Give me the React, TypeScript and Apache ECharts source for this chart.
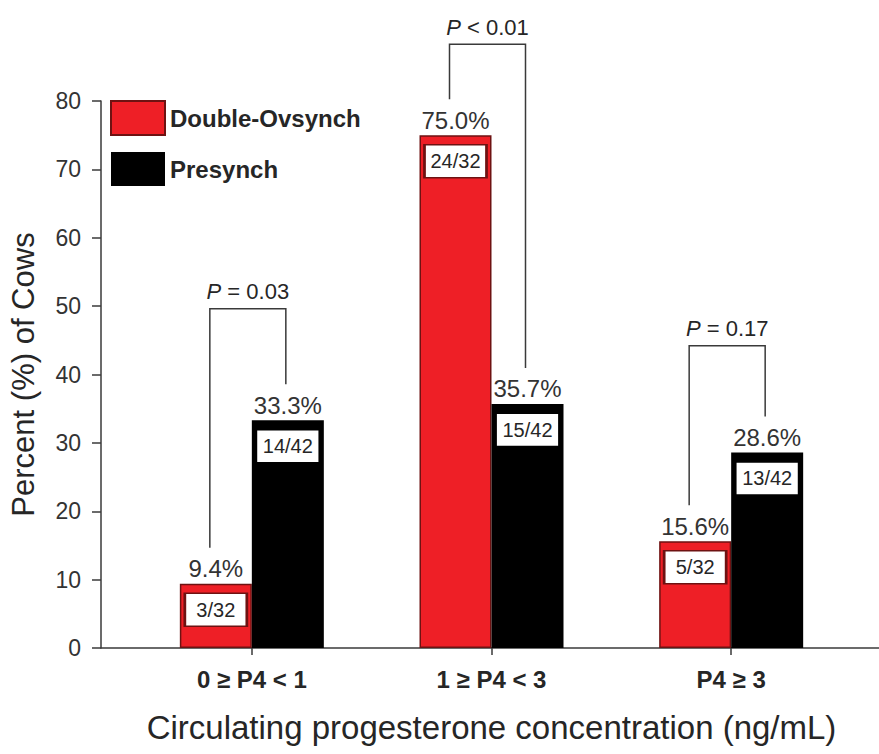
import React, { useEffect, useRef } from "react";
import * as echarts from "echarts";

const categories = ["0 ≥ P4 < 1", "1 ≥ P4 < 3", "P4 ≥ 3"];
const seriesNames = ["Double-Ovsynch", "Presynch"];
const doubleOvsynch = [9.4, 75.0, 15.6];
const presynch = [33.3, 35.7, 28.6];
const doubleFractions = ["3/32", "24/32", "5/32"];
const presynchFractions = ["14/42", "15/42", "13/42"];
const pLabels = ["{i|P} = 0.03", "{i|P} < 0.01", "{i|P} = 0.17"];
const bracketTops = [49.6, 88.3, 44.2];
const yTicks = [0, 10, 20, 30, 40, 50, 60, 70, 80];

const FONT = "'Liberation Sans', Arial, Helvetica, sans-serif";
const RED = "#ee1f26";
const RED_BORDER = "#6e1212";
const TEXT = "#262626";

export default function App() {
  const ref = useRef<HTMLDivElement>(null);
  useEffect(() => {
    if (!ref.current) return;
    const chart = echarts.init(ref.current, undefined, { renderer: "svg" });
    const gridTop = 101;
    const gridBottom = 106;
    const barW = 72;

    const fractionMarks = (vals: number[], fr: string[]) =>
      vals.map((v, i) => ({ name: fr[i], coord: [categories[i], v] }));

    const pctLabel = {
      show: true,
      position: "top",
      distance: 3,
      fontSize: 24,
      color: "#333",
      fontFamily: FONT,
      formatter: (p: any) => p.value.toFixed(1) + "%",
    };

    const option: any = {
      animation: false,
      backgroundColor: "#ffffff",
      textStyle: { fontFamily: FONT },
      legend: {
        orient: "vertical",
        left: 105,
        top: 95,
        itemWidth: 54,
        itemHeight: 34,
        itemGap: 16,
        icon: "rect",
        data: seriesNames,
        textStyle: { fontSize: 24, fontWeight: "bold", color: TEXT, fontFamily: FONT },
      },
      grid: [
        { left: 95, right: 0, top: gridTop, bottom: gridBottom },
        { left: 132, right: 28, top: gridTop, bottom: gridBottom },
      ],
      xAxis: [
        {
          type: "value",
          gridIndex: 0,
          min: 0,
          max: 1,
          axisLine: { show: true, lineStyle: { color: "#3a3a3a", width: 1.5 } },
          axisTick: { show: false },
          axisLabel: { show: false },
          splitLine: { show: false },
        },
        {
          type: "category",
          gridIndex: 1,
          data: categories,
          axisLine: { show: false },
          axisTick: { show: true, alignWithLabel: true, length: 7, lineStyle: { color: "#3a3a3a", width: 1.5 } },
          axisLabel: { fontSize: 24, fontWeight: "bold", color: TEXT, margin: 19, fontFamily: FONT },
          name: "Circulating progesterone concentration (ng/mL)",
          nameLocation: "middle",
          nameGap: 63,
          nameTextStyle: { fontSize: 33, color: TEXT, fontFamily: FONT },
        },
      ],
      yAxis: [
        {
          type: "value",
          gridIndex: 0,
          min: yTicks[0],
          max: yTicks[yTicks.length - 1],
          interval: 10,
          axisLine: { show: true, lineStyle: { color: "#3a3a3a", width: 1.5 } },
          axisTick: { show: true, inside: false, length: 9, lineStyle: { color: "#3a3a3a", width: 1.5 } },
          axisLabel: { fontSize: 23, color: "#333", margin: 20, fontFamily: FONT },
          splitLine: { show: false },
          name: "Percent (%) of Cows",
          nameLocation: "middle",
          nameGap: 62,
          nameTextStyle: { fontSize: 31, color: TEXT, fontFamily: FONT },
        },
        {
          type: "value",
          gridIndex: 1,
          min: yTicks[0],
          max: yTicks[yTicks.length - 1],
          interval: 10,
          show: false,
        },
      ],
      series: [
        {
          name: seriesNames[0],
          type: "bar",
          xAxisIndex: 1,
          yAxisIndex: 1,
          data: doubleOvsynch,
          barWidth: barW,
          barGap: "0%",
          itemStyle: { color: RED, borderColor: RED_BORDER, borderWidth: 1.5 },
          label: pctLabel,
          markPoint: {
            symbol: "rect",
            symbolSize: [62, 33],
            symbolOffset: [0, 26],
            itemStyle: { color: "#fff", borderColor: RED_BORDER, borderWidth: 2 },
            label: { show: true, position: "inside", fontSize: 20, color: TEXT, fontFamily: FONT, formatter: (p: any) => p.name },
            data: fractionMarks(doubleOvsynch, doubleFractions),
          },
        },
        {
          name: seriesNames[1],
          type: "bar",
          xAxisIndex: 1,
          yAxisIndex: 1,
          data: presynch,
          barWidth: barW,
          barGap: "0%",
          itemStyle: { color: "#000" },
          label: pctLabel,
          markPoint: {
            symbol: "rect",
            symbolSize: [64, 33],
            symbolOffset: [0, 26],
            itemStyle: { color: "#fff", borderColor: "#000", borderWidth: 2 },
            label: { show: true, position: "inside", fontSize: 20, color: TEXT, fontFamily: FONT, formatter: (p: any) => p.name },
            data: fractionMarks(presynch, presynchFractions),
          },
        },
        {
          type: "custom",
          xAxisIndex: 1,
          yAxisIndex: 1,
          clip: false,
          silent: true,
          data: categories.map((c, i) => [i, bracketTops[i], doubleOvsynch[i], presynch[i]]),
          renderItem: (params: any, api: any) => {
            const i = api.value(0);
            const top = api.coord([i, api.value(1)]);
            const lb = api.coord([i, api.value(2)]);
            const rb = api.coord([i, api.value(3)]);
            const xl = top[0] - 42;
            const xr = top[0] + 34;
            const gap = 36;
            return {
              type: "group",
              children: [
                {
                  type: "polyline",
                  shape: { points: [[xl, lb[1] - gap], [xl, top[1]], [xr, top[1]], [xr, rb[1] - gap]] },
                  style: { stroke: "#3a3a3a", lineWidth: 1.5, fill: null },
                },
                {
                  type: "text",
                  x: (xl + xr) / 2,
                  y: top[1] - 6,
                  style: {
                    text: pLabels[params.dataIndex],
                    fill: TEXT,
                    fontSize: 22,
                    fontFamily: FONT,
                    align: "center",
                    verticalAlign: "bottom",
                    rich: { i: { fontStyle: "italic", fontSize: 22, fontFamily: FONT, fill: TEXT } },
                  },
                },
              ],
            };
          },
        },
      ],
    };
    chart.setOption(option);
    return () => chart.dispose();
  }, []);
  return <div ref={ref} style={{ position: "fixed", left: 0, top: 0, width: 879, height: 754 }} />;
}
